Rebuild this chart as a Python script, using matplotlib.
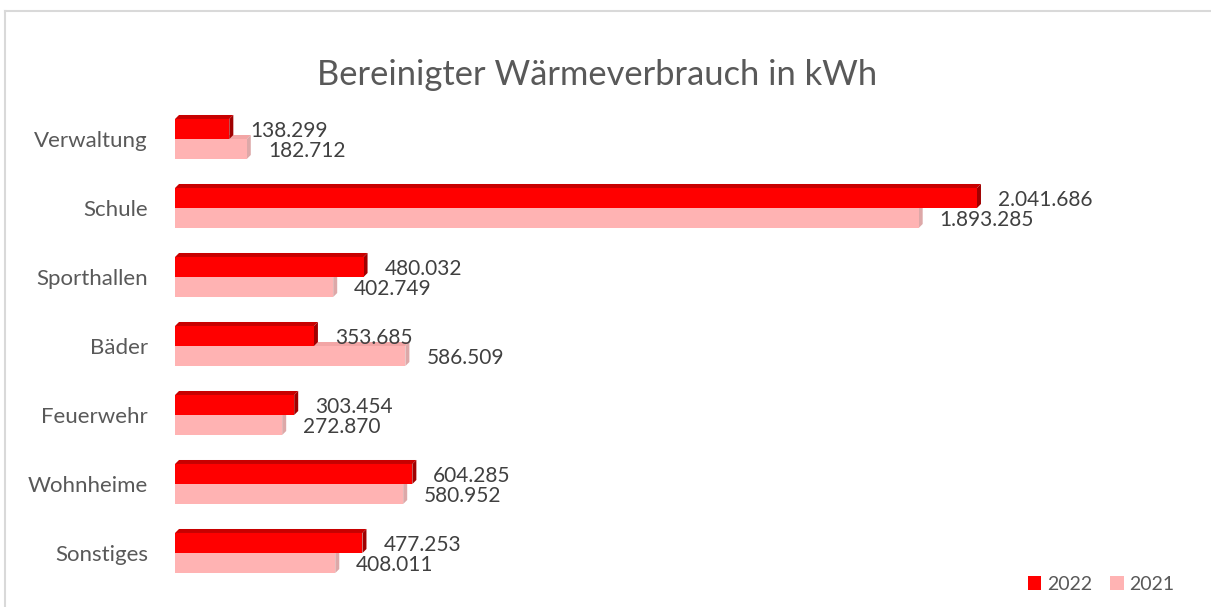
import matplotlib.pyplot as plt
from matplotlib.patches import Polygon, Rectangle
from matplotlib.lines import Line2D

plt.rcParams['font.family'] = ['Lato', 'DejaVu Sans']

categories = ["Verwaltung", "Schule", "Sporthallen", "Bäder", "Feuerwehr", "Wohnheime", "Sonstiges"]
values_2022 = [138299, 2041686, 480032, 353685, 303454, 604285, 477253]
values_2021 = [182712, 1893285, 402749, 586509, 272870, 580952, 408011]


def fmt(v):
    return f"{v:,}".replace(",", ".")


fig = plt.figure(figsize=(12.11, 6.07), dpi=100)
ax = fig.add_axes([175 / 1211, 1 - 587.5 / 607, 1005 / 1211, 483 / 607])

xmax = 1005 / 3.928e-4
ax.set_xlim(0, xmax)
ax.set_ylim(-0.5, len(categories) - 0.5)

# depth of the fake 3d effect, ~4 px each way
dx = 4 / 3.928e-4
dy = 4 / 69
h = 0.29
gap = 21 / 3.928e-4

series = [
    (values_2021, -h / 2, "#FFB3B3", "#F2A5A5", "#DDA8A8"),
    (values_2022, h / 2, "#FF0000", "#C80000", "#A00000"),
]

n = len(categories)
for vals, off, front, top, side in series:
    for i, v in enumerate(vals):
        yc = (n - 1 - i) + off
        y0, y1 = yc - h / 2, yc + h / 2
        ax.add_patch(Polygon([(0, y1), (v, y1), (v + dx, y1 + dy), (dx, y1 + dy)],
                             closed=True, facecolor=top, edgecolor="none"))
        ax.add_patch(Polygon([(v, y0), (v + dx, y0 + dy), (v + dx, y1 + dy), (v, y1)],
                             closed=True, facecolor=side, edgecolor="none"))
        ax.add_patch(Rectangle((0, y0), v, h, facecolor=front, edgecolor="none"))
        ax.text(v + gap, yc - 0.03, fmt(v), ha="left", va="center",
                fontsize=15, color="#404040")

ax.set_yticks(range(n))
ax.set_yticklabels(categories[::-1], fontsize=16, color="#595959")
ax.tick_params(axis="y", length=0, pad=19.5)
ax.set_xticks([])
for s in ax.spines.values():
    s.set_visible(False)

fig.text(597 / 1211, 1 - 75 / 607, "Bereinigter Wärmeverbrauch in kWh",
         ha="center", va="center", fontsize=24.8, color="#595959")

# legend
handles = [Rectangle((0, 0), 1, 1, facecolor="#FF0000"),
           Rectangle((0, 0), 1, 1, facecolor="#FFB3B3")]
fig.legend(handles, ["2022", "2021"], loc="center right",
           bbox_to_anchor=(1192 / 1211, 1 - 584 / 607), ncol=2, frameon=False,
           fontsize=14, handlelength=0.7, handleheight=0.7, handletextpad=0.3,
           columnspacing=0.9, labelcolor="#595959")

# light chart-area border (top and left visible)
fig.add_artist(Line2D([4.5 / 1211, 4.5 / 1211], [0, 1 - 11 / 607],
                      color="#D9D9D9", lw=1.5))
fig.add_artist(Line2D([4.5 / 1211, 1210 / 1211], [1 - 11 / 607, 1 - 11 / 607],
                      color="#D9D9D9", lw=1.5))

fig.savefig("out.png", dpi=100)
